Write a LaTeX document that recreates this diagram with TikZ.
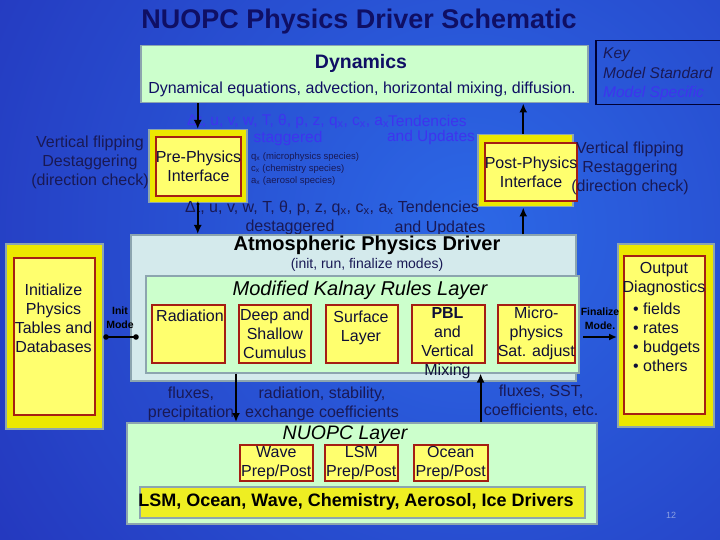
\documentclass[tikz,border=0pt]{standalone}
\usepackage{fontspec}
\setmainfont{Liberation Sans}
\usetikzlibrary{arrows.meta}
\definecolor{bgin}{RGB}{44,104,230}
\definecolor{bgout}{RGB}{30,20,160}
\definecolor{lgreen}{RGB}{204,255,204}
\definecolor{apdfill}{RGB}{212,234,236}
\definecolor{boxgray}{RGB}{140,165,175}
\definecolor{yout}{RGB}{236,232,0}
\definecolor{yin}{RGB}{255,255,110}
\definecolor{redb}{RGB}{165,30,20}
\definecolor{navyT}{RGB}{25,25,85}
\definecolor{boxT}{RGB}{15,15,55}
\definecolor{blueT}{RGB}{62,52,238}
\definecolor{titleT}{RGB}{15,15,100}
\definecolor{pnum}{RGB}{140,160,225}
\definecolor{drvfill}{RGB}{238,238,34}
\newcommand\fsz[2]{\fontsize{#1pt}{#2pt}\selectfont}
\tikzset{
  txt/.style={inner sep=0pt, align=center, text=navyT},
  btxt/.style={inner sep=0pt, align=center, text=boxT},
  fA/.style={font=\fsz{16}{19}},
  fB/.style={font=\fsz{15.5}{18}},
  gbox/.style={draw=boxgray, fill=lgreen, line width=1.5pt, inner sep=0pt},
  abox/.style={draw=boxgray, fill=apdfill, line width=1.5pt, inner sep=0pt},
  ybox/.style={draw=boxgray, fill=yout, line width=1.5pt, inner sep=0pt},
  rbox/.style={draw=redb, fill=yin, line width=1.6pt, inner sep=0pt},
  dbox/.style={draw=boxgray, fill=drvfill, line width=1.5pt, inner sep=0pt},
  keybox/.style={draw=black!80!blue, line width=1.5pt, inner sep=0pt},
  arr/.style={-{Latex[length=9pt,width=8pt]}, line width=2.2pt, black},
  arrs/.style={-{Latex[length=8pt,width=7pt]}, line width=1.8pt, black},
}
\begin{document}
\begin{tikzpicture}[x=1pt,y=-1pt]
\useasboundingbox (0,0) rectangle (720,540);
\begin{scope}
\clip (0,0) rectangle (720,540);
\shade[inner color=bgin, outer color=bgout] (-530,-770) rectangle (1470,1230);
\end{scope}

% title
\node[inner sep=0pt, font=\bfseries\fsz{27}{30}, text=titleT] (title) at (359,22) {NUOPC Physics Driver Schematic};

% dynamics
\node[gbox, anchor=north west, minimum width=447pt, minimum height=57pt] (dyn) at (140,45) {};
\node[inner sep=0pt, font=\bfseries\fsz{19.5}{22}, text=titleT] (dynT) at (361,63) {Dynamics};
\node[txt, fA, text=titleT] (dynL) at (362,89) {Dynamical equations, advection, horizontal mixing, diffusion.};

% key
\node[keybox, anchor=north west, minimum width=135pt, minimum height=64pt] (key) at (595,40) {};
\node[txt, font=\itshape\fsz{15.5}{18}, anchor=west] (k1) at (603,55) {Key};
\node[txt, font=\itshape\fsz{15.5}{18}, anchor=west] (k2) at (603,73) {Model Standard};
\node[txt, font=\itshape\fsz{15.5}{18}, anchor=west, text=blueT] (k3) at (603,93) {Model Specific};

% pre / post physics
\node[ybox, anchor=north west, minimum width=98pt, minimum height=73pt] (preO) at (148,129) {};
\node[rbox, btxt, fA, anchor=north west, minimum width=82pt, minimum height=59pt] (pre) at (155,136) {Pre-Physics\\Interface};
\node[ybox, anchor=north west, minimum width=95pt, minimum height=72pt] (postO) at (477,134) {};
\node[rbox, btxt, fA, anchor=north west, minimum width=81pt, minimum height=58pt] (post) at (484,142) {Post-Physics\\Interface};

\node[txt, fA] (lft) at (90,162) {Vertical flipping\\Destaggering\\(direction check)};
\node[txt, fA] (rgt) at (630,168) {Vertical flipping\\Restaggering\\(direction check)};

% variable texts
\node[txt, fB, text=blueT, anchor=west] (tv1) at (187,121) {Δt, u, v, w, T, θ, p, z, q\textsubscript{x}, c\textsubscript{x}, a\textsubscript{x}};
\node[txt, fB, text=blueT, anchor=west] (tt1) at (388,121) {Tendencies};
\node[txt, fB, text=blueT] (stg) at (288,138) {staggered};
\node[txt, fB, text=blueT] (au1) at (431,137) {and Updates};
\node[txt, font=\fsz{9.5}{12}, align=left, anchor=west] (spec) at (251,169) {q\textsubscript{x} (microphysics species)\\c\textsubscript{x} (chemistry species)\\a\textsubscript{x} (aerosol species)};
\node[txt, fA, anchor=west] (tv2) at (185,208) {Δt, u, v, w, T, θ, p, z, q\textsubscript{x}, c\textsubscript{x}, a\textsubscript{x} Tendencies};
\node[txt, fA] (dstg) at (290,227) {destaggered};
\node[txt, fA] (au2) at (440,228) {and Updates};

% atmospheric physics driver
\node[abox, anchor=north west, minimum width=445pt, minimum height=146pt] (apd) at (130,234) {};
\node[inner sep=0pt, font=\bfseries\fsz{20}{24}, text=black] (apdT) at (367,245) {Atmospheric Physics Driver};
\node[txt, font=\fsz{14}{17}] (apdS) at (367,265) {(init, run, finalize modes)};
\node[gbox, anchor=north west, minimum width=433pt, minimum height=97pt] (mkr) at (145,275) {};
\node[inner sep=0pt, font=\itshape\fsz{20}{24}, text=black] (mkrT) at (360,290) {Modified Kalnay Rules Layer};

\node[rbox, anchor=north west, minimum width=73pt, minimum height=58pt] (rad) at (151,304) {};
\node[btxt, fA] (radT) at (190,316) {Radiation};
\node[rbox, btxt, fA, anchor=north west, minimum width=72pt, minimum height=58pt] (deep) at (238,304) {Deep and\\Shallow\\Cumulus};
\node[rbox, anchor=north west, minimum width=72pt, minimum height=58pt] (surf) at (325,304) {};
\node[btxt, fA] (surfT) at (361,328) {Surface\\Layer};
\node[rbox, anchor=north west, minimum width=73pt, minimum height=58pt] (pbl) at (411,304) {};
\node[btxt, fA] (pblT) at (447.5,343.5) {\textbf{PBL}\\and\\Vertical\\Mixing};
\node[rbox, btxt, fA, anchor=north west, minimum width=74pt, minimum height=58pt] (micro) at (497,304) {Micro-\\physics\\Sat. adjust};

% init box
\node[ybox, anchor=north west, minimum width=97pt, minimum height=185pt] (initO) at (5,243) {};
\node[rbox, anchor=north west, minimum width=81pt, minimum height=157pt] (init) at (13,257) {};
\node[btxt, fA] (initT) at (53.5,318.5) {Initialize\\Physics\\Tables and\\Databases};
\coordinate (im1) at (106,337);
\coordinate (im2) at (136,337);
\draw[line width=2pt] (im1) -- (im2);
\fill (im1) circle (2.8pt);
\fill (im2) circle (2.8pt);
\node[inner sep=0pt, align=center, font=\bfseries\fsz{10.5}{14}, text=black] (imT) at (120,318) {Init\\Mode};

% output box
\node[ybox, anchor=north west, minimum width=96pt, minimum height=183pt] (outO) at (617,243) {};
\node[rbox, anchor=north west, minimum width=81pt, minimum height=158pt] (out) at (623,255) {};
\node[btxt, fA] (outT) at (664,279.5) {Output\\Diagnostics};
\node[btxt, fA, align=left, anchor=west] (outL) at (633,337) {• fields\\• rates\\• budgets\\• others};
\coordinate (fm) at (583,337);
\draw[arrs] (fm) -- (outO.west |- fm);
\node[inner sep=0pt, align=center, font=\bfseries\fsz{10.5}{14}, text=black] (fmT) at (600,319) {Finalize\\Mode.};

% NUOPC layer
\node[gbox, anchor=north west, minimum width=470pt, minimum height=101pt] (nuopc) at (126,422) {};
\node[inner sep=0pt, font=\itshape\fsz{19.5}{22}, text=black] (nuT) at (345,435) {NUOPC Layer};
\node[rbox, btxt, fA, anchor=north west, minimum width=73pt, minimum height=36pt] (wave) at (239,444) {Wave\\Prep/Post};
\node[rbox, btxt, fA, anchor=north west, minimum width=73pt, minimum height=36pt] (lsm) at (324,444) {LSM\\Prep/Post};
\node[rbox, btxt, fA, anchor=north west, minimum width=74pt, minimum height=36pt] (ocean) at (413,444) {Ocean\\Prep/Post};
\node[dbox, anchor=north west, minimum width=445pt, minimum height=31pt] (drv) at (139,486) {};
\node[inner sep=0pt, font=\bfseries\fsz{18}{20}, text=black] (drvT) at (356,502) {LSM, Ocean, Wave, Chemistry, Aerosol, Ice Drivers};

% bottom labels
\node[txt, fA] (b1) at (191,403.5) {fluxes,\\precipitation};
\node[txt, fA] (b2) at (322,403.5) {radiation, stability,\\exchange coefficients};
\node[txt, fA] (b3) at (541,401.5) {fluxes, SST,\\coefficients, etc.};

\node[inner sep=0pt, font=\fsz{9}{11}, text=pnum] (pg) at (671,515) {12};

% arrows
\draw[arr] (preO.north |- dyn.south) -- (preO.north);
\draw[arr] (preO.south) -- (preO.south |- apd.north);
\draw[arr] ([xshift=-2pt]postO.south |- apd.north) -- ([xshift=-2pt]postO.south);
\draw[arr] ([xshift=-2pt]postO.north) -- ([xshift=-2pt]postO.north |- dyn.south);
\draw[arr] ([xshift=-2pt]deep.west |- mkr.south) -- ([xshift=-2pt]deep.west |- nuopc.north);
\draw[arr] ([xshift=-5pt]pbl.east |- nuopc.north) -- ([xshift=-5pt]pbl.east |- mkr.south);
\end{tikzpicture}
\end{document}
